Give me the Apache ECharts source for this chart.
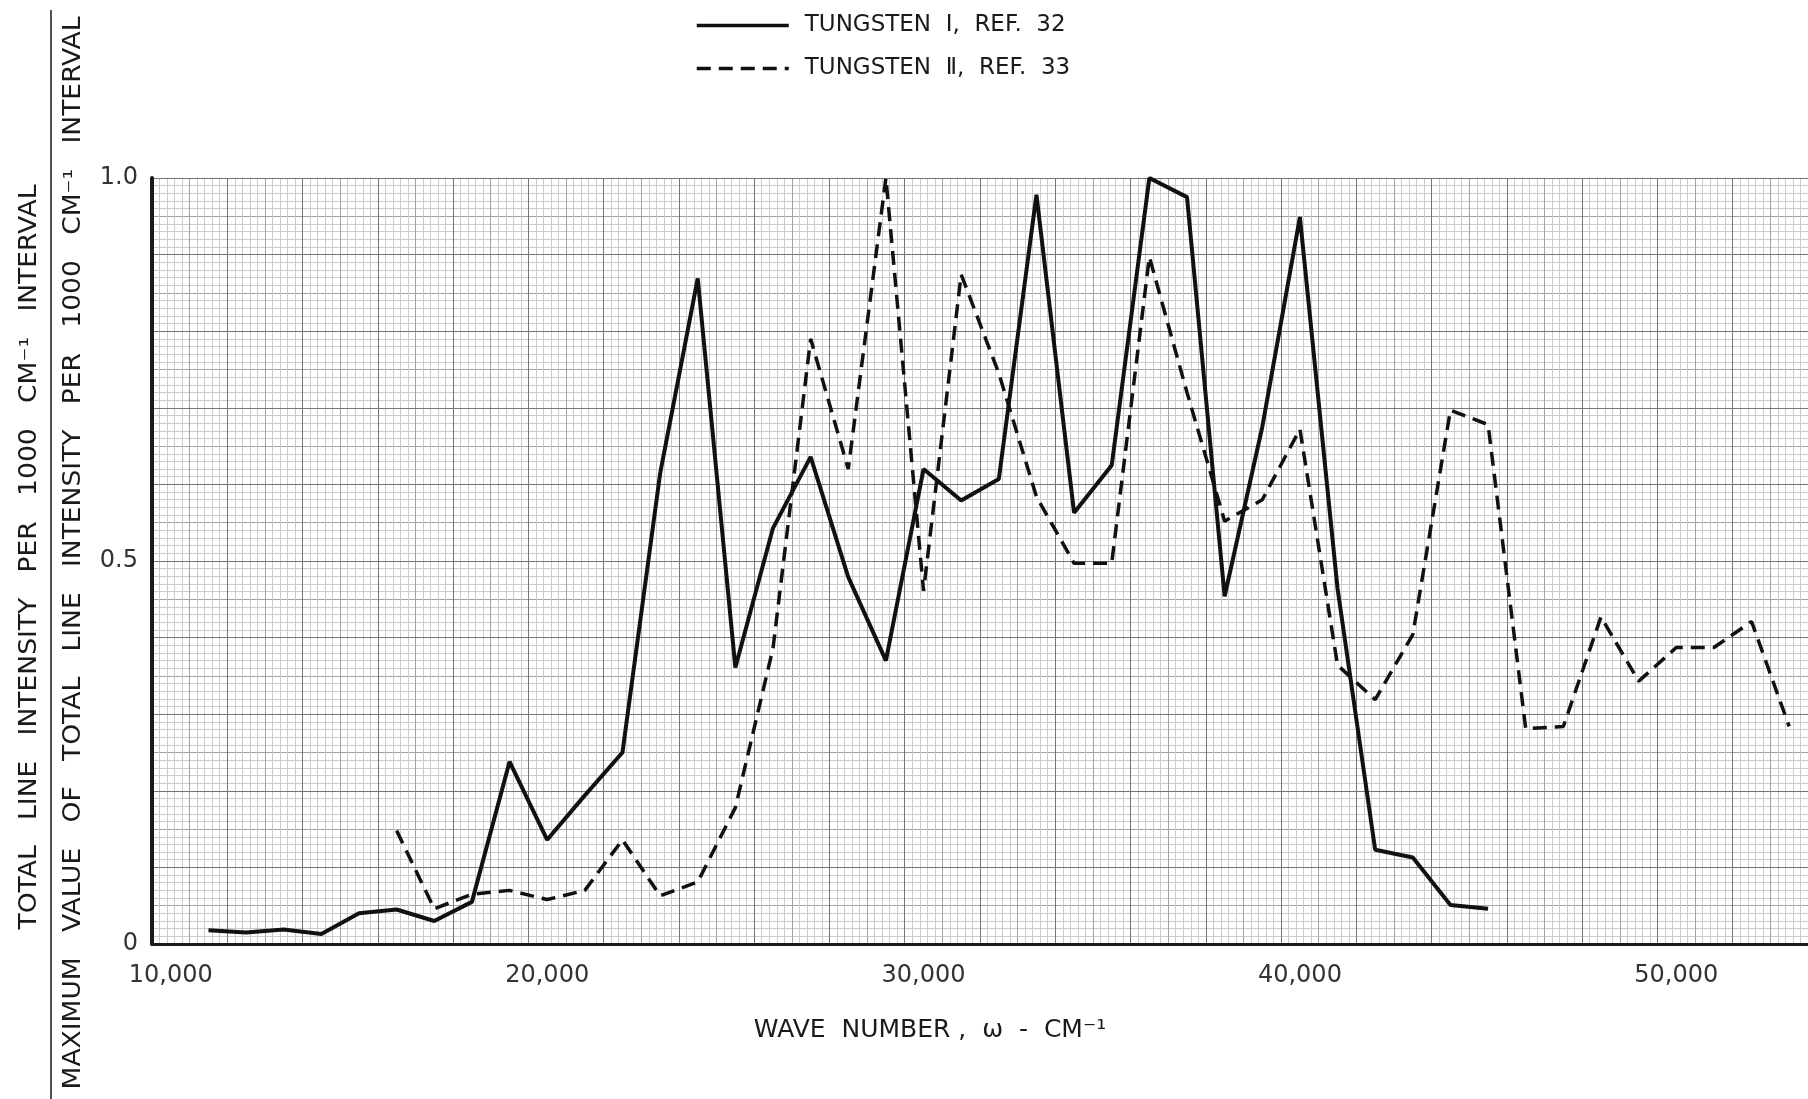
<!DOCTYPE html>
<html>
<head>
<meta charset="utf-8">
<title>Tungsten line intensity</title>
<script src="https://cdn.jsdelivr.net/npm/echarts@6/dist/echarts.min.js"></script>
<style>
  html, body { margin: 0; padding: 0; background: #fff; }
  #chart { width: 1808px; height: 1099px; }
</style>
</head>
<body>
<div id="chart"></div>
<script>
// wave numbers (cm^-1), one point per 1000 cm^-1 interval
const waveW1 = [11000, 12000, 13000, 14000, 15000, 16000, 17000, 18000, 19000, 20000,
  21000, 22000, 23000, 24000, 25000, 26000, 27000, 28000, 29000, 30000,
  31000, 32000, 33000, 34000, 35000, 36000, 37000, 38000, 39000, 40000,
  41000, 42000, 43000, 44000, 45000];
const tungsten1 = [0.018, 0.015, 0.019, 0.013, 0.04, 0.045, 0.03, 0.055, 0.238, 0.136,
  0.194, 0.25, 0.614, 0.869, 0.361, 0.543, 0.636, 0.479, 0.37, 0.62,
  0.579, 0.607, 0.978, 0.563, 0.625, 1.0, 0.975, 0.454, 0.675, 0.949,
  0.464, 0.123, 0.113, 0.051, 0.046];

const waveW2 = [16000, 17000, 18000, 19000, 20000, 21000, 22000, 23000, 24000, 25000,
  26000, 27000, 28000, 29000, 30000, 31000, 32000, 33000, 34000, 35000,
  36000, 37000, 38000, 39000, 40000, 41000, 42000, 43000, 44000, 45000,
  46000, 47000, 48000, 49000, 50000, 51000, 52000, 53000];
const tungsten2 = [0.148, 0.046, 0.065, 0.07, 0.058, 0.07, 0.136, 0.063, 0.081, 0.178,
  0.386, 0.79, 0.62, 1.0, 0.461, 0.874, 0.745, 0.584, 0.497, 0.497,
  0.897, 0.72, 0.552, 0.58, 0.672, 0.364, 0.319, 0.404, 0.697, 0.678,
  0.281, 0.284, 0.427, 0.343, 0.387, 0.387, 0.421, 0.284];

const xTickLabels = [10000, 20000, 30000, 40000, 50000];
const yTickLabels = ['0', '0.5', '1.0'];

const seriesNames = ['TUNGSTEN Ⅰ, REF. 32', 'TUNGSTEN Ⅱ, REF. 33'];
const yTitleOuter = 'TOTAL   LINE   INTENSITY   PER   1000   CM⁻¹   INTERVAL';
const yTitleInner = 'MAXIMUM   VALUE   OF   TOTAL   LINE   INTENSITY   PER   1000   CM⁻¹   INTERVAL';

const FONT = '"DejaVu Sans", "Noto Sans", sans-serif';
const INK = '#1a1a1a';

// squeeze the hand lettering to a given length
function fitScale(text, size, target) {
  const ctx = document.createElement('canvas').getContext('2d');
  ctx.font = size + 'px ' + FONT;
  return target / ctx.measureText(text).width;
}

const chart = echarts.init(document.getElementById('chart'));

const hidden = { axisLine: { show: false }, axisTick: { show: false }, axisLabel: { show: false } };

const option = {
  animation: false,
  backgroundColor: '#fff',
  textStyle: { fontFamily: FONT },
  legend: {
    orient: 'vertical',
    left: 690,
    top: 9,
    itemWidth: 92,
    itemHeight: 14,
    itemGap: 20,
    itemStyle: { opacity: 0 },
    lineStyle: { width: 3.5 },
    formatter: name => name.replace(/ /g, '  '),
    textStyle: { fontSize: 23, color: INK, padding: [0, 0, 0, 11], fontFamily: FONT },
    data: seriesNames
  },
  grid: { left: 152, right: -13, top: 178, bottom: 155 },
  xAxis: [
    {
      type: 'value', min: 9500, max: 53500, interval: 2000, z: 3,
      axisLine: { show: true, onZero: false, lineStyle: { color: INK, width: 3 } },
      axisTick: { show: false },
      axisLabel: {
        customValues: xTickLabels, margin: 20, fontSize: 24, color: '#333',
        formatter: v => v.toLocaleString('en-US')
      },
      splitLine: { show: true, lineStyle: { color: '#767676', width: 1 } },
      name: 'WAVE  NUMBER ,  ω  -  CM⁻¹',
      nameLocation: 'middle',
      nameGap: 74,
      nameTextStyle: { fontSize: 25, color: INK, padding: [0, 100, 0, 0] }
    },
    {
      type: 'value', min: 9500, max: 53500, interval: 1000, z: 1, ...hidden,
      splitLine: { show: true, lineStyle: { color: '#a4a4a4', width: 1 } },
      minorTick: { show: false, splitNumber: 5 },
      minorSplitLine: { show: true, lineStyle: { color: '#cbcbcb', width: 1 } }
    }
  ],
  yAxis: [
    {
      type: 'value', min: 0, max: 1, interval: 0.1, z: 3,
      axisLine: { show: true, lineStyle: { color: INK, width: 4 } },
      axisTick: { show: false },
      axisLabel: {
        margin: 14, fontSize: 24, color: '#333',
        formatter: v => {
          if (Math.abs(v) < 1e-6) return yTickLabels[0];
          if (Math.abs(v - 0.5) < 1e-6) return yTickLabels[1];
          if (Math.abs(v - 1) < 1e-6) return yTickLabels[2];
          return '';
        }
      },
      splitLine: { show: true, lineStyle: { color: '#767676', width: 1 } }
    },
    {
      type: 'value', min: 0, max: 1, interval: 0.05, z: 1, ...hidden,
      splitLine: { show: true, lineStyle: { color: '#a4a4a4', width: 1 } },
      minorTick: { show: false, splitNumber: 5 },
      minorSplitLine: { show: true, lineStyle: { color: '#cbcbcb', width: 1 } }
    }
  ],
  series: [
    {
      name: seriesNames[0], type: 'line', z: 5, symbol: 'none',
      xAxisIndex: 0, yAxisIndex: 0,
      lineStyle: { color: '#111', width: 4, type: 'solid' },
      itemStyle: { color: '#111' },
      data: waveW1.map((w, i) => [w, tungsten1[i]])
    },
    {
      name: seriesNames[1], type: 'line', z: 5, symbol: 'none',
      xAxisIndex: 0, yAxisIndex: 0,
      lineStyle: { color: '#111', width: 3.5, type: [14, 8] },
      itemStyle: { color: '#111' },
      data: waveW2.map((w, i) => [w, tungsten2[i]])
    }
  ],
  graphic: [
    {
      type: 'line', shape: { x1: 51, y1: 10, x2: 51, y2: 1099 },
      style: { stroke: INK, lineWidth: 1.5 }
    },
    {
      type: 'text', x: 30, y: 557, rotation: Math.PI / 2,
      scaleX: fitScale(yTitleOuter, 24, 745),
      style: { text: yTitleOuter, font: '24px ' + FONT, fill: INK, align: 'center', verticalAlign: 'middle' }
    },
    {
      type: 'text', x: 74, y: 553, rotation: Math.PI / 2,
      scaleX: fitScale(yTitleInner, 24, 1073),
      style: { text: yTitleInner, font: '24px ' + FONT, fill: INK, align: 'center', verticalAlign: 'middle' }
    }
  ]
};

chart.setOption(option);
window.addEventListener('resize', () => chart.resize());
</script>
</body>
</html>
